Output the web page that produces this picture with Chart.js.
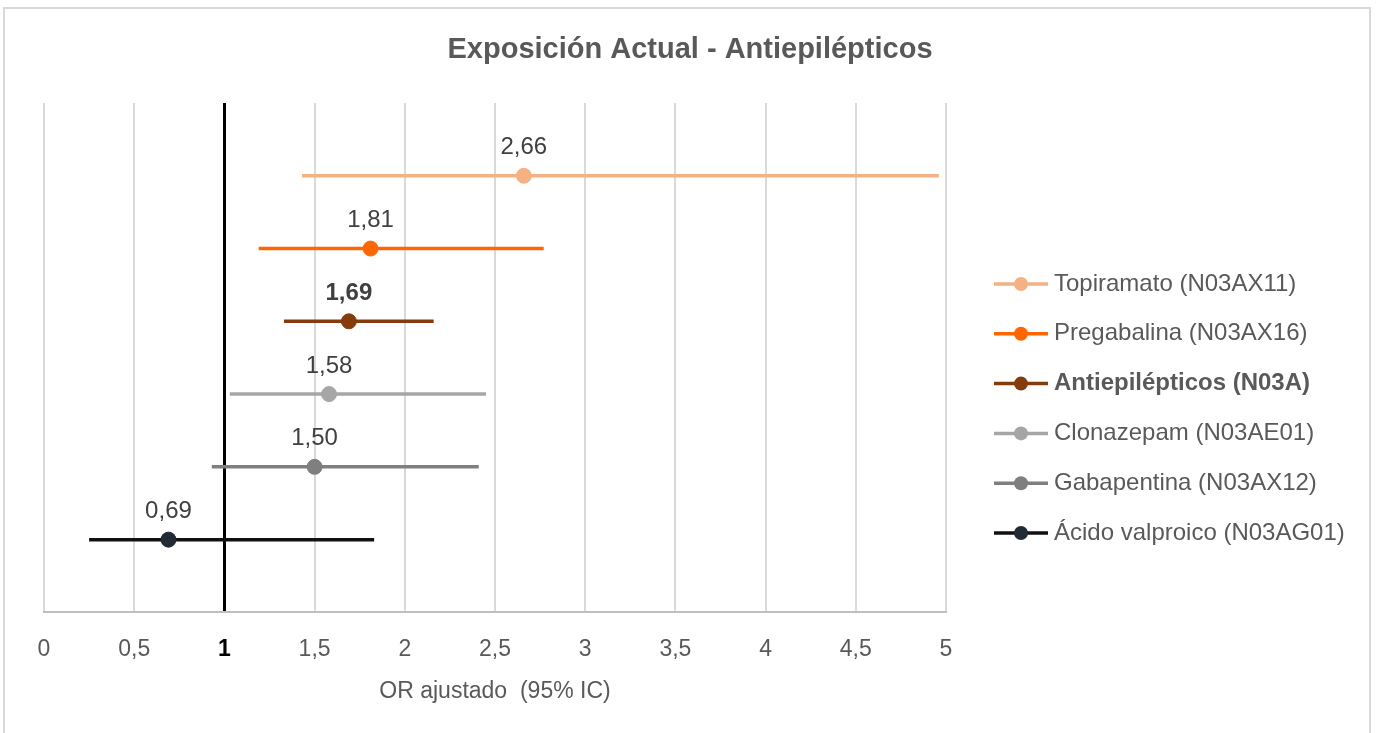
<!DOCTYPE html>
<html>
<head>
<meta charset="utf-8">
<script src="https://cdn.jsdelivr.net/npm/chart.js@4.4.1/dist/chart.umd.min.js"></script>
<style>
  body { margin: 0; background: #fff; }
  #marco { position: absolute; left: 3px; top: 7px; width: 1368px; height: 740px; border: 2px solid #d9d9d9; box-sizing: border-box; }
  #grafico { position: absolute; left: 0; top: 0; }
</style>
</head>
<body>
<div id="marco"></div>
<canvas id="grafico" width="1376" height="733"></canvas>
<script>
// Datos del gráfico (OR ajustado e intervalo de confianza 95%)
var titulo = "Exposición Actual - Antiepilépticos";
var farmacos = [
  "Topiramato (N03AX11)",
  "Pregabalina (N03AX16)",
  "Antiepilépticos (N03A)",
  "Clonazepam (N03AE01)",
  "Gabapentina (N03AX12)",
  "Ácido valproico (N03AG01)"
];
var orAjustado = [2.66, 1.81, 1.69, 1.58, 1.50, 0.69];
var icInferior = [1.43, 1.19, 1.33, 1.03, 0.93, 0.25];
var icSuperior = [4.96, 2.77, 2.16, 2.45, 2.41, 1.83];
var etiquetasOR = ["2,66", "1,81", "1,69", "1,58", "1,50", "0,69"];
var colorLinea = ["#F4B183", "#FF6600", "#843C0C", "#A6A6A6", "#7F7F7F", "#111111"];
var colorPunto = ["#F4B183", "#FF6600", "#843C0C", "#A6A6A6", "#7F7F7F", "#222A35"];
var enNegrita = [false, false, true, false, false, false];

var fuente = "'Liberation Sans', Arial, sans-serif";

var datasets = [];
for (var i = 0; i < farmacos.length; i++) {
  datasets.push({
    label: farmacos[i],
    data: [
      { x: icInferior[i], y: i + 1 },
      { x: orAjustado[i], y: i + 1 },
      { x: icSuperior[i], y: i + 1 }
    ],
    showLine: true,
    borderColor: colorLinea[i],
    borderWidth: 3.5,
    pointRadius: [0, 7.5, 0],
    pointHoverRadius: [0, 7.5, 0],
    pointBackgroundColor: colorPunto[i],
    pointBorderColor: colorPunto[i],
    pointBorderWidth: 1
  });
}

// Etiquetas con el valor del OR encima de cada punto
const etiquetasPlugin = {
  id: "etiquetas",
  afterDatasetsDraw(chart) {
    const ctx = chart.ctx;
    const xs = chart.scales.x;
    const ys = chart.scales.y;
    ctx.save();
    ctx.textAlign = "center";
    ctx.textBaseline = "middle";
    ctx.fillStyle = "#404040";
    for (var i = 0; i < orAjustado.length; i++) {
      ctx.font = (enNegrita[i] ? "bold " : "") + "24px " + fuente;
      ctx.fillText(etiquetasOR[i], xs.getPixelForValue(orAjustado[i]), ys.getPixelForValue(i + 1) - 28);
    }
    ctx.restore();
  }
};

// Título centrado en todo el lienzo y leyenda propia (una entrada va en negrita)
const leyendaPlugin = {
  id: "leyenda",
  afterDraw(chart) {
    const ctx = chart.ctx;
    ctx.save();
    ctx.textBaseline = "middle";
    ctx.textAlign = "center";
    ctx.fillStyle = "#595959";
    ctx.font = "bold 29px " + fuente;
    ctx.fillText(titulo, 690, 50);

    ctx.textAlign = "left";
    for (var i = 0; i < farmacos.length; i++) {
      var y = 284 + i * 49.8;
      ctx.strokeStyle = colorLinea[i];
      ctx.lineWidth = 3.5;
      ctx.beginPath();
      ctx.moveTo(994, y);
      ctx.lineTo(1048, y);
      ctx.stroke();
      ctx.fillStyle = colorPunto[i];
      ctx.beginPath();
      ctx.arc(1021, y, 7, 0, Math.PI * 2);
      ctx.fill();
      ctx.fillStyle = "#595959";
      ctx.font = (enNegrita[i] ? "bold " : "") + "24px " + fuente;
      ctx.fillText(farmacos[i], 1054, y);
    }
    ctx.restore();
  }
};

const ctx = document.getElementById("grafico").getContext("2d");
const myChart = new Chart(ctx, {
  type: "scatter",
  data: { datasets: datasets },
  plugins: [etiquetasPlugin, leyendaPlugin],
  options: {
    responsive: false,
    animation: false,
    layout: { padding: { left: 44, right: 430, top: 103, bottom: 24 } },
    plugins: {
      legend: { display: false },
      tooltip: { enabled: false },
      title: { display: false }
    },
    scales: {
      x: {
        type: "linear",
        min: 0,
        max: 5,
        border: { display: true, color: "#bfbfbf", width: 2 },
        grid: {
          color: (c) => (c.tick && c.tick.value === 1 ? "#000000" : "#d9d9d9"),
          lineWidth: (c) => (c.tick && c.tick.value === 1 ? 3 : 2),
          drawTicks: true,
          tickLength: 24,
          tickColor: "rgba(0,0,0,0)"
        },
        ticks: {
          stepSize: 0.5,
          padding: 2,
          color: (c) => (c.tick && c.tick.value === 1 ? "#000000" : "#595959"),
          font: (c) => ({
            family: fuente,
            size: 23,
            lineHeight: 1,
            weight: c.tick && c.tick.value === 1 ? "bold" : "normal"
          }),
          callback: (v) => String(v).replace(".", ",")
        },
        title: {
          display: true,
          text: "OR ajustado  (95% IC)",
          color: "#595959",
          font: { family: fuente, size: 23 },
          padding: { top: 14, bottom: 4 }
        }
      },
      y: {
        type: "linear",
        display: false,
        min: 0,
        max: 7,
        reverse: true
      }
    }
  }
});
</script>
</body>
</html>
